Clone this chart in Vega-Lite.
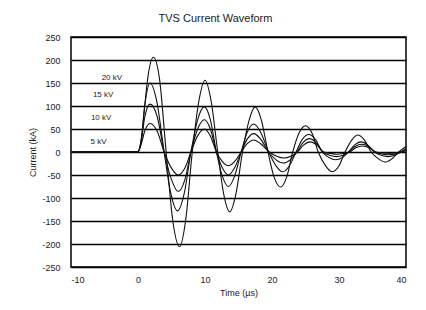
{
"$schema": "https://vega.github.io/schema/vega-lite/v6.json",
"width": 335, "height": 230,
"autosize": {"type": "none"},
"padding": {"left": 71, "top": 37, "right": 20, "bottom": 43},
"background": "white",
"title": {"text": "TVS Current Waveform", "anchor": "middle", "dx": -23, "offset": 9, "fontSize": 11, "fontWeight": "normal", "font": "Liberation Sans", "color": "#222"},
"config": {
  "view": {"stroke": "#000", "strokeWidth": 1.5},
  "axis": {"labelFont": "Liberation Sans", "titleFont": "Liberation Sans", "labelColor": "#222", "titleColor": "#222", "labelFontSize": 9, "titleFontSize": 9, "titleFontWeight": "normal", "domain": false, "ticks": false, "labelOverlap": false}
},
"datasets": {
  "curves": [
    {"s":"20 kV","t":-10,"v":0},{"s":"20 kV","t":-8,"v":1},{"s":"20 kV","t":-6,"v":-1},{"s":"20 kV","t":-4,"v":1},{"s":"20 kV","t":-2,"v":0},{"s":"20 kV","t":-0.5,"v":1},{"s":"20 kV","t":0,"v":1},{"s":"20 kV","t":0.5,"v":25},{"s":"20 kV","t":1.0,"v":100},{"s":"20 kV","t":1.5,"v":165},{"s":"20 kV","t":2.3,"v":206},{"s":"20 kV","t":3.2,"v":160},{"s":"20 kV","t":4.2,"v":0},{"s":"20 kV","t":5.2,"v":-150},{"s":"20 kV","t":6.2,"v":-206},{"s":"20 kV","t":7.1,"v":-150},{"s":"20 kV","t":8.1,"v":0},{"s":"20 kV","t":9.1,"v":112},{"s":"20 kV","t":10.0,"v":156},{"s":"20 kV","t":10.9,"v":112},{"s":"20 kV","t":11.9,"v":0},{"s":"20 kV","t":12.8,"v":-92},{"s":"20 kV","t":13.7,"v":-130},{"s":"20 kV","t":14.6,"v":-92},{"s":"20 kV","t":15.6,"v":0},{"s":"20 kV","t":16.6,"v":70},{"s":"20 kV","t":17.5,"v":98},{"s":"20 kV","t":18.4,"v":70},{"s":"20 kV","t":19.4,"v":0},{"s":"20 kV","t":20.3,"v":-54},{"s":"20 kV","t":21.3,"v":-76},{"s":"20 kV","t":22.2,"v":-54},{"s":"20 kV","t":23.1,"v":0},{"s":"20 kV","t":24.0,"v":40},{"s":"20 kV","t":25.0,"v":57},{"s":"20 kV","t":26.0,"v":40},{"s":"20 kV","t":26.9,"v":0},{"s":"20 kV","t":28.0,"v":-30},{"s":"20 kV","t":29.0,"v":-43},{"s":"20 kV","t":30.0,"v":-30},{"s":"20 kV","t":30.9,"v":0},{"s":"20 kV","t":31.9,"v":26},{"s":"20 kV","t":32.8,"v":37},{"s":"20 kV","t":33.8,"v":26},{"s":"20 kV","t":34.8,"v":0},{"s":"20 kV","t":35.9,"v":-15},{"s":"20 kV","t":36.9,"v":-22},{"s":"20 kV","t":37.9,"v":-15},{"s":"20 kV","t":38.9,"v":0},{"s":"20 kV","t":40,"v":12},
    {"s":"15 kV","t":-10,"v":0},{"s":"15 kV","t":-8,"v":-1},{"s":"15 kV","t":-6,"v":1},{"s":"15 kV","t":-4,"v":0},{"s":"15 kV","t":-2,"v":1},{"s":"15 kV","t":-0.5,"v":0},{"s":"15 kV","t":0,"v":1},{"s":"15 kV","t":0.5,"v":30},{"s":"15 kV","t":1.0,"v":100},{"s":"15 kV","t":1.8,"v":150},{"s":"15 kV","t":2.8,"v":110},{"s":"15 kV","t":3.9,"v":0},{"s":"15 kV","t":4.9,"v":-90},{"s":"15 kV","t":5.9,"v":-128},{"s":"15 kV","t":6.9,"v":-90},{"s":"15 kV","t":7.9,"v":0},{"s":"15 kV","t":8.9,"v":70},{"s":"15 kV","t":9.9,"v":98},{"s":"15 kV","t":10.8,"v":70},{"s":"15 kV","t":11.7,"v":0},{"s":"15 kV","t":12.6,"v":-53},{"s":"15 kV","t":13.5,"v":-75},{"s":"15 kV","t":14.4,"v":-53},{"s":"15 kV","t":15.4,"v":0},{"s":"15 kV","t":16.3,"v":43},{"s":"15 kV","t":17.3,"v":61},{"s":"15 kV","t":18.3,"v":43},{"s":"15 kV","t":19.5,"v":0},{"s":"15 kV","t":20.6,"v":-30},{"s":"15 kV","t":21.6,"v":-43},{"s":"15 kV","t":22.6,"v":-30},{"s":"15 kV","t":23.6,"v":0},{"s":"15 kV","t":24.5,"v":27},{"s":"15 kV","t":25.5,"v":38},{"s":"15 kV","t":26.5,"v":27},{"s":"15 kV","t":27.5,"v":0},{"s":"15 kV","t":28.5,"v":-12},{"s":"15 kV","t":29.5,"v":-17},{"s":"15 kV","t":30.5,"v":-12},{"s":"15 kV","t":31.4,"v":0},{"s":"15 kV","t":32.3,"v":15},{"s":"15 kV","t":33.3,"v":22},{"s":"15 kV","t":34.3,"v":15},{"s":"15 kV","t":35.3,"v":0},{"s":"15 kV","t":36.3,"v":-7},{"s":"15 kV","t":37.3,"v":-10},{"s":"15 kV","t":38.3,"v":-7},{"s":"15 kV","t":39.2,"v":0},{"s":"15 kV","t":40,"v":8},
    {"s":"10 kV","t":-10,"v":0},{"s":"10 kV","t":-7,"v":1},{"s":"10 kV","t":-4,"v":-1},{"s":"10 kV","t":-1,"v":0},{"s":"10 kV","t":0,"v":0},{"s":"10 kV","t":0.5,"v":25},{"s":"10 kV","t":1.0,"v":75},{"s":"10 kV","t":1.8,"v":104},{"s":"10 kV","t":2.9,"v":75},{"s":"10 kV","t":3.9,"v":0},{"s":"10 kV","t":5.0,"v":-60},{"s":"10 kV","t":6.0,"v":-86},{"s":"10 kV","t":7.0,"v":-60},{"s":"10 kV","t":7.9,"v":0},{"s":"10 kV","t":8.9,"v":50},{"s":"10 kV","t":9.9,"v":70},{"s":"10 kV","t":10.8,"v":50},{"s":"10 kV","t":11.7,"v":0},{"s":"10 kV","t":12.6,"v":-35},{"s":"10 kV","t":13.5,"v":-50},{"s":"10 kV","t":14.4,"v":-35},{"s":"10 kV","t":15.4,"v":0},{"s":"10 kV","t":16.3,"v":28},{"s":"10 kV","t":17.3,"v":40},{"s":"10 kV","t":18.3,"v":28},{"s":"10 kV","t":19.5,"v":0},{"s":"10 kV","t":20.6,"v":-17},{"s":"10 kV","t":21.7,"v":-24},{"s":"10 kV","t":22.7,"v":-17},{"s":"10 kV","t":23.7,"v":0},{"s":"10 kV","t":24.6,"v":20},{"s":"10 kV","t":25.6,"v":29},{"s":"10 kV","t":26.6,"v":20},{"s":"10 kV","t":27.6,"v":0},{"s":"10 kV","t":28.6,"v":-7},{"s":"10 kV","t":29.6,"v":-10},{"s":"10 kV","t":30.6,"v":-7},{"s":"10 kV","t":31.5,"v":0},{"s":"10 kV","t":32.4,"v":12},{"s":"10 kV","t":33.4,"v":17},{"s":"10 kV","t":34.4,"v":12},{"s":"10 kV","t":35.4,"v":0},{"s":"10 kV","t":36.4,"v":-4},{"s":"10 kV","t":37.4,"v":-6},{"s":"10 kV","t":38.4,"v":-4},{"s":"10 kV","t":39.3,"v":0},{"s":"10 kV","t":40,"v":6},
    {"s":"5 kV","t":-10,"v":0},{"s":"5 kV","t":-7,"v":-1},{"s":"5 kV","t":-4,"v":1},{"s":"5 kV","t":-1,"v":0},{"s":"5 kV","t":0,"v":0},{"s":"5 kV","t":0.5,"v":18},{"s":"5 kV","t":1.0,"v":45},{"s":"5 kV","t":1.8,"v":62},{"s":"5 kV","t":2.9,"v":44},{"s":"5 kV","t":3.9,"v":0},{"s":"5 kV","t":5.0,"v":-35},{"s":"5 kV","t":6.0,"v":-50},{"s":"5 kV","t":7.0,"v":-35},{"s":"5 kV","t":7.9,"v":0},{"s":"5 kV","t":8.9,"v":35},{"s":"5 kV","t":9.9,"v":50},{"s":"5 kV","t":10.8,"v":35},{"s":"5 kV","t":11.7,"v":0},{"s":"5 kV","t":12.6,"v":-21},{"s":"5 kV","t":13.5,"v":-30},{"s":"5 kV","t":14.4,"v":-21},{"s":"5 kV","t":15.4,"v":0},{"s":"5 kV","t":16.3,"v":18},{"s":"5 kV","t":17.3,"v":26},{"s":"5 kV","t":18.3,"v":18},{"s":"5 kV","t":19.6,"v":0},{"s":"5 kV","t":20.7,"v":-9},{"s":"5 kV","t":21.8,"v":-13},{"s":"5 kV","t":22.8,"v":-9},{"s":"5 kV","t":23.8,"v":0},{"s":"5 kV","t":24.7,"v":15},{"s":"5 kV","t":25.7,"v":22},{"s":"5 kV","t":26.7,"v":15},{"s":"5 kV","t":27.7,"v":0},{"s":"5 kV","t":28.7,"v":-3},{"s":"5 kV","t":29.7,"v":-5},{"s":"5 kV","t":30.7,"v":-3},{"s":"5 kV","t":31.6,"v":0},{"s":"5 kV","t":32.5,"v":9},{"s":"5 kV","t":33.5,"v":13},{"s":"5 kV","t":34.5,"v":9},{"s":"5 kV","t":35.5,"v":0},{"s":"5 kV","t":36.5,"v":-2},{"s":"5 kV","t":37.5,"v":-3},{"s":"5 kV","t":38.5,"v":-2},{"s":"5 kV","t":39.4,"v":0},{"s":"5 kV","t":40,"v":4}
  ],
  "labels": [
    {"label":"20 kV","t":-3.9,"v":160},
    {"label":"15 kV","t":-5.2,"v":124},
    {"label":"10 kV","t":-5.5,"v":75},
    {"label":"5 kV","t":-5.9,"v":22}
  ]
},
"encoding": {
  "x": {"field": "t", "type": "quantitative", "scale": {"domain": [-10, 40], "nice": false},
        "axis": {"values": [-10, 0, 10, 20, 30, 40], "grid": false, "labelPadding": 8, "title": "Time (µs)", "titlePadding": 4, "labelExpr": "replace(datum.label, '−', '-')"}},
  "y": {"field": "v", "type": "quantitative", "scale": {"domain": [-250, 250], "nice": false},
        "axis": {"values": [-250, -200, -150, -100, -50, 0, 50, 100, 150, 200, 250], "grid": true, "gridColor": "#000", "gridWidth": 1.3, "labelPadding": 11, "title": "Current (kA)", "titlePadding": 4, "labelExpr": "replace(datum.label, '−', '-')"}}
},
"layer": [
  {
    "data": {"name": "curves"},
    "mark": {"type": "line", "color": "#111", "strokeWidth": 1.1, "interpolate": "monotone"},
    "encoding": {
      "detail": {"field": "s", "type": "nominal"}
    }
  },
  {
    "data": {"name": "labels"},
    "mark": {"type": "text", "font": "Liberation Sans", "fontSize": 8, "color": "#222", "align": "center", "baseline": "middle"},
    "encoding": {
      "text": {"field": "label"}
    }
  }
]
}
